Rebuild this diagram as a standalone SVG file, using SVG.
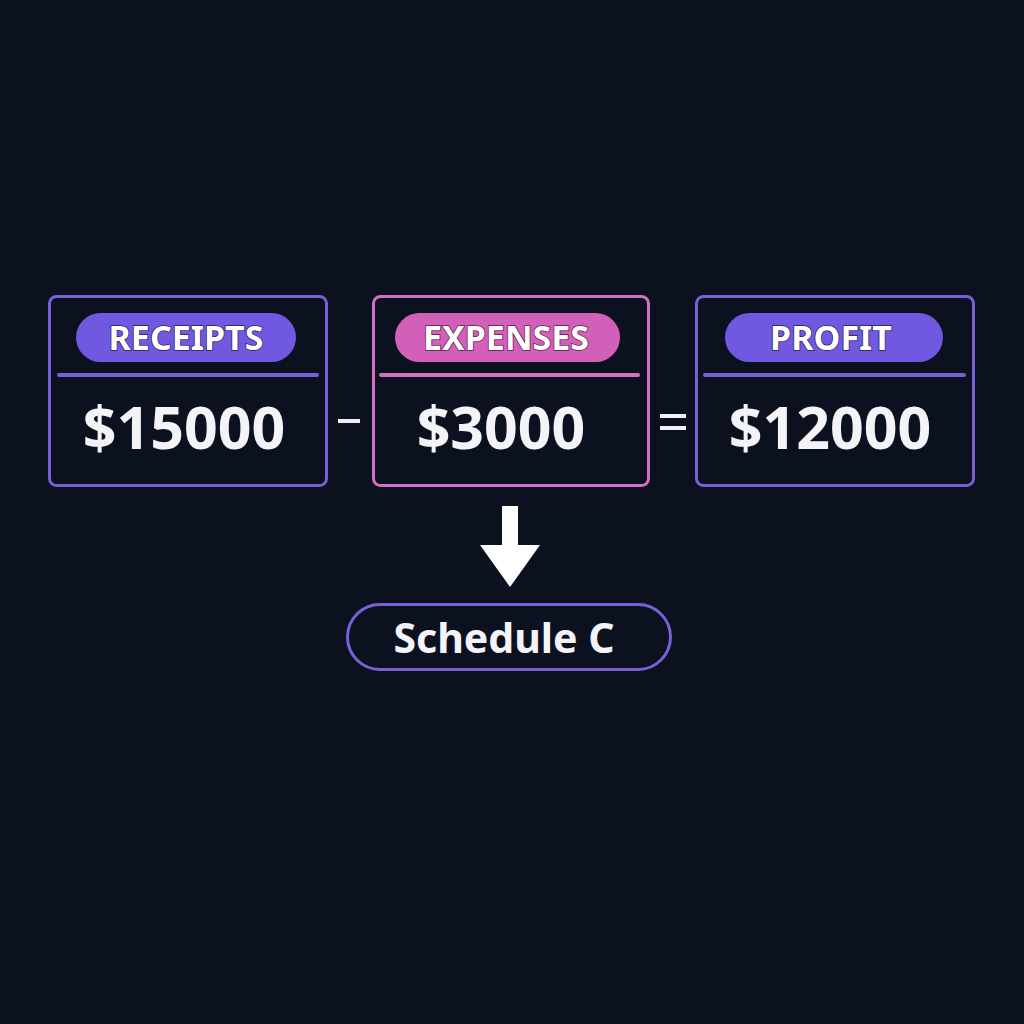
<svg xmlns="http://www.w3.org/2000/svg" width="1024" height="1024" viewBox="0 0 1024 1024">
<style>
.box{fill:#0c1120;stroke-width:3}
.pur{stroke:#7861d6}
.pink{stroke:#d56fc1}
.div{stroke-width:4;stroke-linecap:round}
.lbl{font-family:"Noto Sans","Open Sans",sans-serif;font-weight:700;font-size:34px;fill:#ffffff;stroke:#2a1c55;stroke-width:1.5;paint-order:stroke;text-anchor:middle}
.val{font-family:"Noto Sans","Open Sans",sans-serif;font-weight:700;font-size:59px;fill:#f4f4f8;text-anchor:middle}
.op{stroke:#f0f0f4;stroke-width:4}
</style>
<rect width="1024" height="1024" fill="#0c1120"/>
<g id="receipts">
<rect class="box pur" x="49.5" y="296.5" width="277" height="189" rx="7"/>
<rect x="76" y="313" width="220" height="49" rx="24.5" fill="#7158e0"/>
<text class="lbl" x="186" y="350">RECEIPTS</text>
<line class="div pur" x1="59" y1="375" x2="317" y2="375"/>
<text class="val" x="184" y="449">$15000</text>
</g>
<g id="expenses">
<rect class="box pink" x="373.5" y="296.5" width="275" height="189" rx="7"/>
<rect x="395" y="313" width="225" height="49" rx="24.5" fill="#d260b8"/>
<text class="lbl" x="506" y="350" style="stroke:#5a1a4a">EXPENSES</text>
<line class="div pink" x1="381" y1="375" x2="638" y2="375"/>
<text class="val" x="501" y="449">$3000</text>
</g>
<g id="profit">
<rect class="box pur" x="696.5" y="296.5" width="277" height="189" rx="7"/>
<rect x="725" y="313" width="218" height="49" rx="24.5" fill="#7158e0"/>
<text class="lbl" x="831" y="350">PROFIT</text>
<line class="div pur" x1="705" y1="375" x2="964" y2="375"/>
<text class="val" x="830" y="449">$12000</text>
</g>
<g id="operators">
<line class="op" x1="338" y1="421" x2="360" y2="421"/>
<line class="op" x1="660" y1="416" x2="686" y2="416"/>
<line class="op" x1="660" y1="428" x2="686" y2="428"/>
</g>
<g id="connectors">
<path d="M502 506 H518 V545 H540 L510 587 L480 545 H502 Z" fill="#ffffff"/>
</g>
<g id="schedule-c">
<rect x="347.5" y="604.5" width="323" height="65" rx="32.5" fill="#0c1120" stroke="#7861d6" stroke-width="3"/>
<text x="504" y="653" font-family="'Noto Sans','Open Sans',sans-serif" font-weight="700" font-size="41" fill="#f4f4f8" text-anchor="middle">Schedule C</text>
</g>
</svg>
